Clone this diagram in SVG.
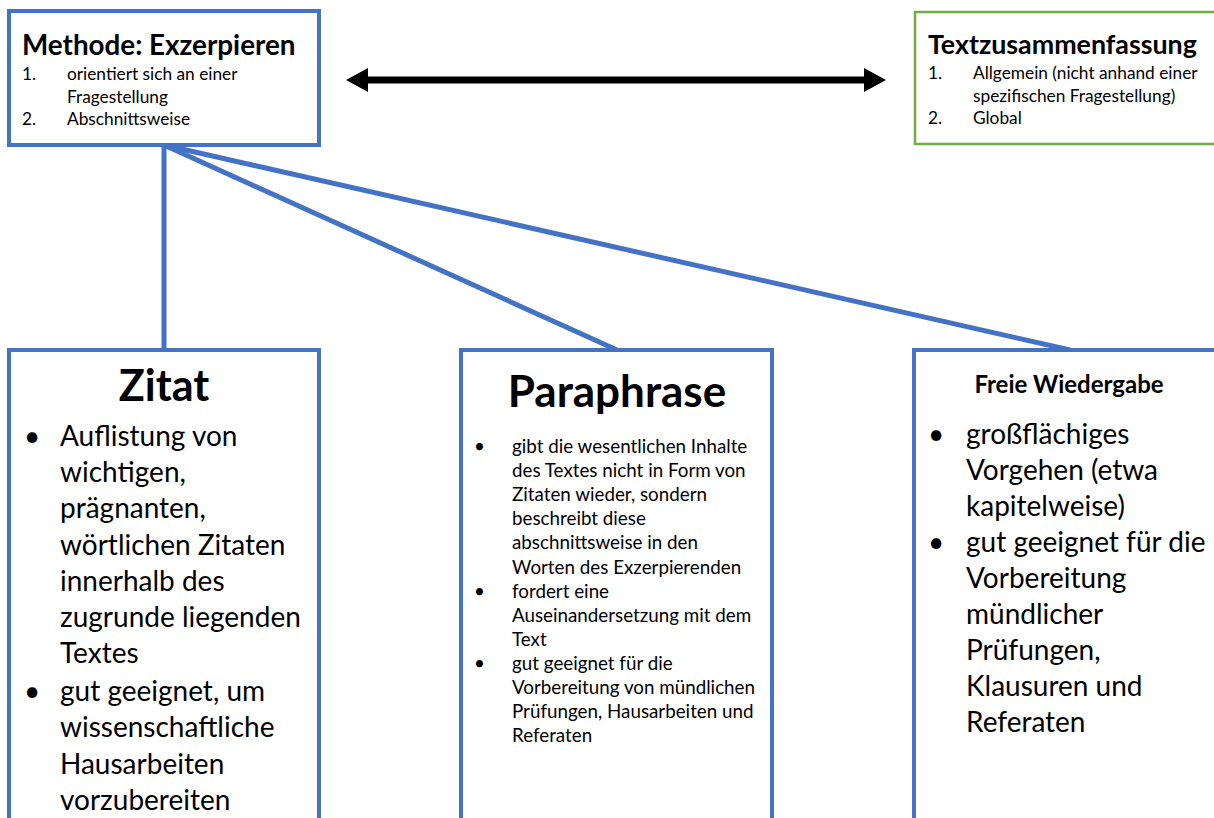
<svg xmlns="http://www.w3.org/2000/svg" width="1214" height="818" viewBox="0 0 1214 818">
<defs>
<style>
text{font-family:Lato,"Open Sans","Liberation Sans",sans-serif;fill:#000}
.b{font-weight:bold}
.box{fill:#fff;stroke:#4472C4;stroke-width:4}
.gbox{fill:#fff;stroke:#70AD47;stroke-width:2.5}
.conn{stroke:#4472C4;stroke-width:5;fill:none}
.s17{font-size:17.3px}
.s19{font-size:18.8px}
.s28{font-size:28px}
</style>
</defs>
<rect width="1214" height="818" fill="#fff"/>
<g id="connectors">
<line class="conn" x1="164" y1="145" x2="164" y2="350"/>
<line class="conn" x1="164" y1="145" x2="617" y2="350"/>
<line class="conn" x1="164" y1="145" x2="1070" y2="350"/>
<line x1="364" y1="80" x2="868" y2="80" stroke="#000" stroke-width="7"/>
<path d="M346,80 L368,68 L368,92 z M886,80 L864,68 L864,92 z" fill="#000"/>
</g>
<g id="methode">
<rect class="box" x="9" y="11" width="310" height="134"/>
<text class="b" x="22" y="55" font-size="27.8">Methode: Exzerpieren</text>
<text class="s17" x="22" y="80">1.</text>
<text class="s17" x="67" y="80">orientiert sich an einer</text>
<text class="s17" x="67" y="103">Fragestellung</text>
<text class="s17" x="22" y="125">2.</text>
<text class="s17" x="67" y="125">Abschnittsweise</text>
</g>
<g id="textzusammenfassung">
<rect class="gbox" x="915" y="12" width="310" height="132"/>
<text class="b" x="928" y="54" font-size="26.8">Textzusammenfassung</text>
<text class="s17" x="928" y="79">1.</text>
<text class="s17" x="973" y="79">Allgemein (nicht anhand einer</text>
<text class="s17" x="973" y="102">spezifischen Fragestellung)</text>
<text class="s17" x="928" y="124">2.</text>
<text class="s17" x="973" y="124">Global</text>
</g>
<g id="zitat">
<rect class="box" x="9" y="350" width="310" height="480"/>
<text class="b" x="164" y="401" font-size="43" text-anchor="middle">Zitat</text>
<g class="s28">
<text x="24" y="446">•</text>
<text x="60" y="446">Auflistung von</text>
<text x="60" y="482">wichtigen,</text>
<text x="60" y="518">prägnanten,</text>
<text x="60" y="555">wörtlichen Zitaten</text>
<text x="60" y="591">innerhalb des</text>
<text x="60" y="627">zugrunde liegenden</text>
<text x="60" y="663">Textes</text>
<text x="24" y="701">•</text>
<text x="60" y="701">gut geeignet, um</text>
<text x="60" y="737">wissenschaftliche</text>
<text x="60" y="774">Hausarbeiten</text>
<text x="60" y="810">vorzubereiten</text>
</g>
</g>
<g id="paraphrase">
<rect class="box" x="461" y="350" width="311" height="480"/>
<text class="b" x="617" y="407" font-size="44" text-anchor="middle">Paraphrase</text>
<g class="s19">
<text x="474" y="453">•</text>
<text x="512" y="453">gibt die wesentlichen Inhalte</text>
<text x="512" y="477">des Textes nicht in Form von</text>
<text x="512" y="501">Zitaten wieder, sondern</text>
<text x="512" y="525">beschreibt diese</text>
<text x="512" y="549">abschnittsweise in den</text>
<text x="512" y="574">Worten des Exzerpierenden</text>
<text x="474" y="598">•</text>
<text x="512" y="598">fordert eine</text>
<text x="512" y="622">Auseinandersetzung mit dem</text>
<text x="512" y="646">Text</text>
<text x="474" y="670">•</text>
<text x="512" y="670">gut geeignet für die</text>
<text x="512" y="694">Vorbereitung von mündlichen</text>
<text x="512" y="718">Prüfungen, Hausarbeiten und</text>
<text x="512" y="742">Referaten</text>
</g>
</g>
<g id="freie">
<rect class="box" x="914" y="350" width="320" height="480"/>
<text class="b" x="1069" y="393" font-size="24" text-anchor="middle">Freie Wiedergabe</text>
<g class="s28">
<text x="928" y="444">•</text>
<text x="966" y="444">großflächiges</text>
<text x="966" y="480">Vorgehen (etwa</text>
<text x="966" y="516">kapitelweise)</text>
<text x="928" y="552">•</text>
<text x="966" y="552">gut geeignet für die</text>
<text x="966" y="588">Vorbereitung</text>
<text x="966" y="624">mündlicher</text>
<text x="966" y="660">Prüfungen,</text>
<text x="966" y="696">Klausuren und</text>
<text x="966" y="732">Referaten</text>
</g>
</g>
</svg>
